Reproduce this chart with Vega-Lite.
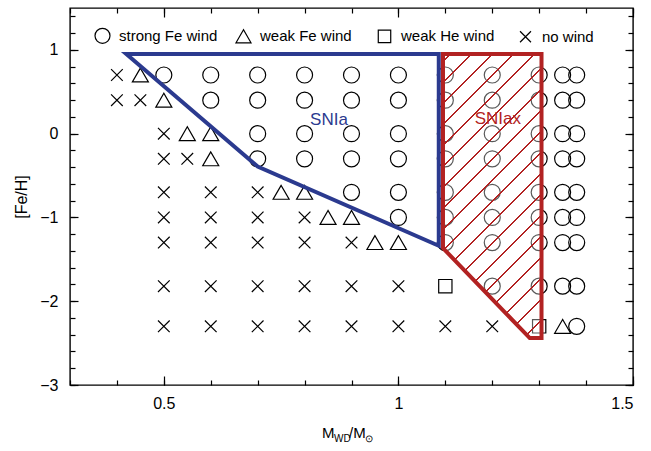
{
  "$schema": "https://vega.github.io/schema/vega-lite/v6.json",
  "width": 563,
  "height": 377,
  "autosize": {"type": "none"},
  "padding": {"left": 70, "top": 8, "right": 18, "bottom": 66},
  "background": "white",
  "config": {
    "view": {"stroke": "black", "strokeWidth": 1.4},
    "font": "Liberation Sans",
    "axis": {"domain": false, "grid": false, "tickColor": "black", "tickWidth": 1.2, "labelColor": "black", "labelFont": "Liberation Sans", "labelFontSize": 16, "titleFont": "Liberation Sans", "titleFontSize": 16, "titleFontWeight": "normal", "titleColor": "black"}
  },
  "datasets": {
    "pts": [
      {"m": 0.4, "f": 0.7, "w": "no wind"}, {"m": 0.45, "f": 0.7, "w": "weak Fe wind"}, {"m": 0.5, "f": 0.7, "w": "strong Fe wind"}, {"m": 0.6, "f": 0.7, "w": "strong Fe wind"}, {"m": 0.7, "f": 0.7, "w": "strong Fe wind"}, {"m": 0.8, "f": 0.7, "w": "strong Fe wind"}, {"m": 0.9, "f": 0.7, "w": "strong Fe wind"}, {"m": 1.0, "f": 0.7, "w": "strong Fe wind"}, {"m": 1.1, "f": 0.7, "w": "strong Fe wind"}, {"m": 1.2, "f": 0.7, "w": "strong Fe wind"}, {"m": 1.3, "f": 0.7, "w": "strong Fe wind"}, {"m": 1.35, "f": 0.7, "w": "strong Fe wind"}, {"m": 1.38, "f": 0.7, "w": "strong Fe wind"},
      {"m": 0.4, "f": 0.4, "w": "no wind"}, {"m": 0.45, "f": 0.4, "w": "no wind"}, {"m": 0.5, "f": 0.4, "w": "weak Fe wind"}, {"m": 0.6, "f": 0.4, "w": "strong Fe wind"}, {"m": 0.7, "f": 0.4, "w": "strong Fe wind"}, {"m": 0.8, "f": 0.4, "w": "strong Fe wind"}, {"m": 0.9, "f": 0.4, "w": "strong Fe wind"}, {"m": 1.0, "f": 0.4, "w": "strong Fe wind"}, {"m": 1.1, "f": 0.4, "w": "strong Fe wind"}, {"m": 1.2, "f": 0.4, "w": "strong Fe wind"}, {"m": 1.3, "f": 0.4, "w": "strong Fe wind"}, {"m": 1.35, "f": 0.4, "w": "strong Fe wind"}, {"m": 1.38, "f": 0.4, "w": "strong Fe wind"},
      {"m": 0.5, "f": 0, "w": "no wind"}, {"m": 0.55, "f": 0, "w": "weak Fe wind"}, {"m": 0.6, "f": 0, "w": "weak Fe wind"}, {"m": 0.7, "f": 0, "w": "strong Fe wind"}, {"m": 0.8, "f": 0, "w": "strong Fe wind"}, {"m": 0.9, "f": 0, "w": "strong Fe wind"}, {"m": 1.0, "f": 0, "w": "strong Fe wind"}, {"m": 1.1, "f": 0, "w": "strong Fe wind"}, {"m": 1.2, "f": 0, "w": "strong Fe wind"}, {"m": 1.3, "f": 0, "w": "strong Fe wind"}, {"m": 1.35, "f": 0, "w": "strong Fe wind"}, {"m": 1.38, "f": 0, "w": "strong Fe wind"},
      {"m": 0.5, "f": -0.3, "w": "no wind"}, {"m": 0.55, "f": -0.3, "w": "no wind"}, {"m": 0.6, "f": -0.3, "w": "weak Fe wind"}, {"m": 0.7, "f": -0.3, "w": "strong Fe wind"}, {"m": 0.8, "f": -0.3, "w": "strong Fe wind"}, {"m": 0.9, "f": -0.3, "w": "strong Fe wind"}, {"m": 1.0, "f": -0.3, "w": "strong Fe wind"}, {"m": 1.1, "f": -0.3, "w": "strong Fe wind"}, {"m": 1.2, "f": -0.3, "w": "strong Fe wind"}, {"m": 1.3, "f": -0.3, "w": "strong Fe wind"}, {"m": 1.35, "f": -0.3, "w": "strong Fe wind"}, {"m": 1.38, "f": -0.3, "w": "strong Fe wind"},
      {"m": 0.5, "f": -0.7, "w": "no wind"}, {"m": 0.6, "f": -0.7, "w": "no wind"}, {"m": 0.7, "f": -0.7, "w": "no wind"}, {"m": 0.75, "f": -0.7, "w": "weak Fe wind"}, {"m": 0.8, "f": -0.7, "w": "weak Fe wind"}, {"m": 0.9, "f": -0.7, "w": "strong Fe wind"}, {"m": 1.0, "f": -0.7, "w": "strong Fe wind"}, {"m": 1.1, "f": -0.7, "w": "strong Fe wind"}, {"m": 1.2, "f": -0.7, "w": "strong Fe wind"}, {"m": 1.3, "f": -0.7, "w": "strong Fe wind"}, {"m": 1.35, "f": -0.7, "w": "strong Fe wind"}, {"m": 1.38, "f": -0.7, "w": "strong Fe wind"},
      {"m": 0.5, "f": -1, "w": "no wind"}, {"m": 0.6, "f": -1, "w": "no wind"}, {"m": 0.7, "f": -1, "w": "no wind"}, {"m": 0.8, "f": -1, "w": "no wind"}, {"m": 0.85, "f": -1, "w": "weak Fe wind"}, {"m": 0.9, "f": -1, "w": "weak Fe wind"}, {"m": 1.0, "f": -1, "w": "strong Fe wind"}, {"m": 1.1, "f": -1, "w": "strong Fe wind"}, {"m": 1.2, "f": -1, "w": "strong Fe wind"}, {"m": 1.3, "f": -1, "w": "strong Fe wind"}, {"m": 1.35, "f": -1, "w": "strong Fe wind"}, {"m": 1.38, "f": -1, "w": "strong Fe wind"},
      {"m": 0.5, "f": -1.3, "w": "no wind"}, {"m": 0.6, "f": -1.3, "w": "no wind"}, {"m": 0.7, "f": -1.3, "w": "no wind"}, {"m": 0.8, "f": -1.3, "w": "no wind"}, {"m": 0.9, "f": -1.3, "w": "no wind"}, {"m": 0.95, "f": -1.3, "w": "weak Fe wind"}, {"m": 1.0, "f": -1.3, "w": "weak Fe wind"}, {"m": 1.1, "f": -1.3, "w": "strong Fe wind"}, {"m": 1.2, "f": -1.3, "w": "strong Fe wind"}, {"m": 1.3, "f": -1.3, "w": "strong Fe wind"}, {"m": 1.35, "f": -1.3, "w": "strong Fe wind"}, {"m": 1.38, "f": -1.3, "w": "strong Fe wind"},
      {"m": 0.5, "f": -1.82, "w": "no wind"}, {"m": 0.6, "f": -1.82, "w": "no wind"}, {"m": 0.7, "f": -1.82, "w": "no wind"}, {"m": 0.8, "f": -1.82, "w": "no wind"}, {"m": 0.9, "f": -1.82, "w": "no wind"}, {"m": 1.0, "f": -1.82, "w": "no wind"}, {"m": 1.1, "f": -1.82, "w": "weak He wind"}, {"m": 1.2, "f": -1.82, "w": "strong Fe wind"}, {"m": 1.3, "f": -1.82, "w": "strong Fe wind"}, {"m": 1.35, "f": -1.82, "w": "strong Fe wind"}, {"m": 1.38, "f": -1.82, "w": "strong Fe wind"},
      {"m": 0.5, "f": -2.3, "w": "no wind"}, {"m": 0.6, "f": -2.3, "w": "no wind"}, {"m": 0.7, "f": -2.3, "w": "no wind"}, {"m": 0.8, "f": -2.3, "w": "no wind"}, {"m": 0.9, "f": -2.3, "w": "no wind"}, {"m": 1.0, "f": -2.3, "w": "no wind"}, {"m": 1.1, "f": -2.3, "w": "no wind"}, {"m": 1.2, "f": -2.3, "w": "no wind"}, {"m": 1.3, "f": -2.3, "w": "weak He wind"}, {"m": 1.35, "f": -2.3, "w": "weak Fe wind"}, {"m": 1.38, "f": -2.3, "w": "strong Fe wind"}
    ],
    "snia": [
      {"x": 0.42, "lo": 0.95, "hi": 0.95},
      {"x": 0.7, "lo": -0.393, "hi": 0.95},
      {"x": 1.086, "lo": -1.338, "hi": 0.95}
    ],
    "sniax": [
      {"x": 1.095, "lo": -1.366, "hi": 0.95},
      {"x": 1.28, "lo": -2.44, "hi": 0.95},
      {"x": 1.305, "lo": -2.44, "hi": 0.95}
    ],
    "labA": [{"x": 0.852, "y": 0.163, "t": "SNIa"}],
    "labB": [{"x": 1.212, "y": 0.175, "t": "SNIax"}],
    "titleMain": [{"x": 0.837, "y": -3.627, "t": "M"}, {"x": 0.8946, "y": -3.627, "t": "/M"}],
    "titleSub": [{"x": 0.8627, "y": -3.675, "t": "WD"}, {"x": 0.9287, "y": -3.675, "t": "⊙"}]
  },
  "resolve": {"axis": {"x": "independent", "y": "independent"}},
  "layer": [
    {
      "data": {"name": "pts"},
      "mark": {"type": "point", "filled": false, "size": 256, "strokeWidth": 1.2, "color": "black", "opacity": 1},
      "encoding": {
        "x": {"field": "m", "type": "quantitative", "scale": {"domain": [0.3, 1.5], "nice": false, "zero": false},
              "axis": {"orient": "bottom", "values": [0.5, 1, 1.5], "tickSize": -9, "labelPadding": 19, "labelFontSize": 16, "labelFont": "Liberation Sans", "labelColor": "black", "format": "~g", "title": null}},
        "y": {"field": "f", "type": "quantitative", "scale": {"domain": [-3, 1.5], "nice": false, "zero": false},
              "axis": {"orient": "left", "values": [-3, -2, -1, 0, 1], "tickSize": -8, "labelPadding": 20, "labelFontSize": 16, "labelFont": "Liberation Sans", "labelColor": "black", "format": "d",
                       "title": "[Fe/H]", "titleFontSize": 16, "titleFont": "Liberation Sans", "titleFontWeight": "normal", "titleColor": "black", "titlePadding": 10}},
        "shape": {"field": "w", "type": "nominal",
                  "scale": {"domain": ["strong Fe wind", "weak Fe wind", "weak He wind", "no wind"],
                            "range": ["circle", "triangle-up", "M-0.83,-0.83H0.83V0.83H-0.83Z", "M-0.73,-0.73L0.73,0.73M0.73,-0.73L-0.73,0.73"]},
                  "legend": {"orient": "none", "legendX": 24, "legendY": 19, "direction": "horizontal", "columns": 4, "gridAlign": "all", "title": null,
                             "symbolSize": 225, "symbolStrokeWidth": 1.2, "symbolStrokeColor": "black", "symbolFillColor": "transparent", "symbolOpacity": 1,
                             "labelFont": "Liberation Sans", "labelFontSize": 15, "labelColor": "black", "labelOffset": 8, "columnPadding": 15, "padding": 0}}
      }
    },
    {
      "data": {"name": "snia"},
      "mark": {"type": "area", "fill": "transparent", "stroke": "#2b3a8f", "strokeWidth": 4, "strokeJoin": "miter", "strokeMiterLimit": 10},
      "encoding": {
        "x": {"field": "x", "type": "quantitative", "scale": {"domain": [0.3, 1.5], "nice": false, "zero": false},
              "axis": {"orient": "bottom", "values": [0.3, 0.4, 0.5, 0.6, 0.7, 0.8, 0.9, 1.0, 1.1, 1.2, 1.3, 1.4, 1.5], "tickSize": -5, "labels": false, "title": null}},
        "y": {"field": "lo", "type": "quantitative", "scale": {"domain": [-3, 1.5], "nice": false, "zero": false},
              "axis": {"orient": "left", "values": [-3, -2.8, -2.6, -2.4, -2.2, -2, -1.8, -1.6, -1.4, -1.2, -1, -0.8, -0.6, -0.4, -0.2, 0, 0.2, 0.4, 0.6, 0.8, 1, 1.2, 1.4], "tickSize": -5, "labels": false, "title": null}},
        "y2": {"field": "hi"}
      }
    },
    {
      "data": {"name": "sniax"},
      "mark": {"type": "area", "stroke": "#b22222", "strokeWidth": 4, "strokeJoin": "miter",
               "fill": {"gradient": "linear", "x1": 0, "y1": 0, "x2": 0.4164, "y2": 1.2021,
                        "stops": [
                          {"offset": 0, "color": "rgba(255,255,255,0.35)"},
                          {"offset": 0.0172, "color": "rgba(255,255,255,0.35)"}, {"offset": 0.0172, "color": "#b22222"}, {"offset": 0.0228, "color": "#b22222"}, {"offset": 0.0228, "color": "rgba(255,255,255,0.35)"},
                          {"offset": 0.07204, "color": "rgba(255,255,255,0.35)"}, {"offset": 0.07204, "color": "#b22222"}, {"offset": 0.07764, "color": "#b22222"}, {"offset": 0.07764, "color": "rgba(255,255,255,0.35)"},
                          {"offset": 0.12688, "color": "rgba(255,255,255,0.35)"}, {"offset": 0.12688, "color": "#b22222"}, {"offset": 0.13248, "color": "#b22222"}, {"offset": 0.13248, "color": "rgba(255,255,255,0.35)"},
                          {"offset": 0.18172, "color": "rgba(255,255,255,0.35)"}, {"offset": 0.18172, "color": "#b22222"}, {"offset": 0.18732, "color": "#b22222"}, {"offset": 0.18732, "color": "rgba(255,255,255,0.35)"},
                          {"offset": 0.23656, "color": "rgba(255,255,255,0.35)"}, {"offset": 0.23656, "color": "#b22222"}, {"offset": 0.24216, "color": "#b22222"}, {"offset": 0.24216, "color": "rgba(255,255,255,0.35)"},
                          {"offset": 0.2914, "color": "rgba(255,255,255,0.35)"}, {"offset": 0.2914, "color": "#b22222"}, {"offset": 0.297, "color": "#b22222"}, {"offset": 0.297, "color": "rgba(255,255,255,0.35)"},
                          {"offset": 0.34624, "color": "rgba(255,255,255,0.35)"}, {"offset": 0.34624, "color": "#b22222"}, {"offset": 0.35184, "color": "#b22222"}, {"offset": 0.35184, "color": "rgba(255,255,255,0.35)"},
                          {"offset": 0.40108, "color": "rgba(255,255,255,0.35)"}, {"offset": 0.40108, "color": "#b22222"}, {"offset": 0.40668, "color": "#b22222"}, {"offset": 0.40668, "color": "rgba(255,255,255,0.35)"},
                          {"offset": 0.45592, "color": "rgba(255,255,255,0.35)"}, {"offset": 0.45592, "color": "#b22222"}, {"offset": 0.46152, "color": "#b22222"}, {"offset": 0.46152, "color": "rgba(255,255,255,0.35)"},
                          {"offset": 0.51076, "color": "rgba(255,255,255,0.35)"}, {"offset": 0.51076, "color": "#b22222"}, {"offset": 0.51636, "color": "#b22222"}, {"offset": 0.51636, "color": "rgba(255,255,255,0.35)"},
                          {"offset": 0.5656, "color": "rgba(255,255,255,0.35)"}, {"offset": 0.5656, "color": "#b22222"}, {"offset": 0.5712, "color": "#b22222"}, {"offset": 0.5712, "color": "rgba(255,255,255,0.35)"},
                          {"offset": 0.62044, "color": "rgba(255,255,255,0.35)"}, {"offset": 0.62044, "color": "#b22222"}, {"offset": 0.62604, "color": "#b22222"}, {"offset": 0.62604, "color": "rgba(255,255,255,0.35)"},
                          {"offset": 0.67528, "color": "rgba(255,255,255,0.35)"}, {"offset": 0.67528, "color": "#b22222"}, {"offset": 0.68088, "color": "#b22222"}, {"offset": 0.68088, "color": "rgba(255,255,255,0.35)"},
                          {"offset": 0.73012, "color": "rgba(255,255,255,0.35)"}, {"offset": 0.73012, "color": "#b22222"}, {"offset": 0.73572, "color": "#b22222"}, {"offset": 0.73572, "color": "rgba(255,255,255,0.35)"},
                          {"offset": 0.78496, "color": "rgba(255,255,255,0.35)"}, {"offset": 0.78496, "color": "#b22222"}, {"offset": 0.79056, "color": "#b22222"}, {"offset": 0.79056, "color": "rgba(255,255,255,0.35)"},
                          {"offset": 0.8398, "color": "rgba(255,255,255,0.35)"}, {"offset": 0.8398, "color": "#b22222"}, {"offset": 0.8454, "color": "#b22222"}, {"offset": 0.8454, "color": "rgba(255,255,255,0.35)"},
                          {"offset": 0.89464, "color": "rgba(255,255,255,0.35)"}, {"offset": 0.89464, "color": "#b22222"}, {"offset": 0.90024, "color": "#b22222"}, {"offset": 0.90024, "color": "rgba(255,255,255,0.35)"},
                          {"offset": 0.94948, "color": "rgba(255,255,255,0.35)"}, {"offset": 0.94948, "color": "#b22222"}, {"offset": 0.95508, "color": "#b22222"}, {"offset": 0.95508, "color": "rgba(255,255,255,0.35)"},
                          {"offset": 1, "color": "rgba(255,255,255,0.35)"}
                        ]}},
      "encoding": {
        "x": {"field": "x", "type": "quantitative", "scale": {"domain": [0.3, 1.5], "nice": false, "zero": false},
              "axis": {"orient": "top", "values": [0.5, 1, 1.5], "tickSize": -9, "labels": false, "title": null}},
        "y": {"field": "lo", "type": "quantitative", "scale": {"domain": [-3, 1.5], "nice": false, "zero": false},
              "axis": {"orient": "right", "values": [-3, -2, -1, 0, 1], "tickSize": -8, "labels": false, "title": null}},
        "y2": {"field": "hi"}
      }
    },
    {
      "data": {"name": "labA"},
      "mark": {"type": "text", "fontSize": 17, "font": "Liberation Sans", "color": "#2b3a8f", "align": "center", "baseline": "middle"},
      "encoding": {
        "x": {"field": "x", "type": "quantitative", "scale": {"domain": [0.3, 1.5], "nice": false, "zero": false},
              "axis": {"orient": "top", "values": [0.3, 0.4, 0.5, 0.6, 0.7, 0.8, 0.9, 1.0, 1.1, 1.2, 1.3, 1.4, 1.5], "tickSize": -5, "labels": false, "title": null}},
        "y": {"field": "y", "type": "quantitative", "scale": {"domain": [-3, 1.5], "nice": false, "zero": false},
              "axis": {"orient": "right", "values": [-3, -2.8, -2.6, -2.4, -2.2, -2, -1.8, -1.6, -1.4, -1.2, -1, -0.8, -0.6, -0.4, -0.2, 0, 0.2, 0.4, 0.6, 0.8, 1, 1.2, 1.4], "tickSize": -5, "labels": false, "title": null}},
        "text": {"field": "t"}
      }
    },
    {
      "data": {"name": "labB"},
      "mark": {"type": "text", "fontSize": 17, "font": "Liberation Sans", "color": "#b22222", "align": "center", "baseline": "middle"},
      "encoding": {
        "x": {"field": "x", "type": "quantitative", "scale": {"domain": [0.3, 1.5], "nice": false, "zero": false}, "axis": null},
        "y": {"field": "y", "type": "quantitative", "scale": {"domain": [-3, 1.5], "nice": false, "zero": false}, "axis": null},
        "text": {"field": "t"}
      }
    },
    {
      "data": {"name": "titleMain"},
      "mark": {"type": "text", "fontSize": 15, "font": "Liberation Sans", "color": "black", "align": "left", "baseline": "alphabetic"},
      "encoding": {
        "x": {"field": "x", "type": "quantitative", "scale": {"domain": [0.3, 1.5], "nice": false, "zero": false}, "axis": null},
        "y": {"field": "y", "type": "quantitative", "scale": {"domain": [-3, 1.5], "nice": false, "zero": false}, "axis": null},
        "text": {"field": "t"}
      }
    },
    {
      "data": {"name": "titleSub"},
      "mark": {"type": "text", "fontSize": 10, "font": "Liberation Sans", "color": "black", "align": "left", "baseline": "alphabetic"},
      "encoding": {
        "x": {"field": "x", "type": "quantitative", "scale": {"domain": [0.3, 1.5], "nice": false, "zero": false}, "axis": null},
        "y": {"field": "y", "type": "quantitative", "scale": {"domain": [-3, 1.5], "nice": false, "zero": false}, "axis": null},
        "text": {"field": "t"}
      }
    }
  ]
}
